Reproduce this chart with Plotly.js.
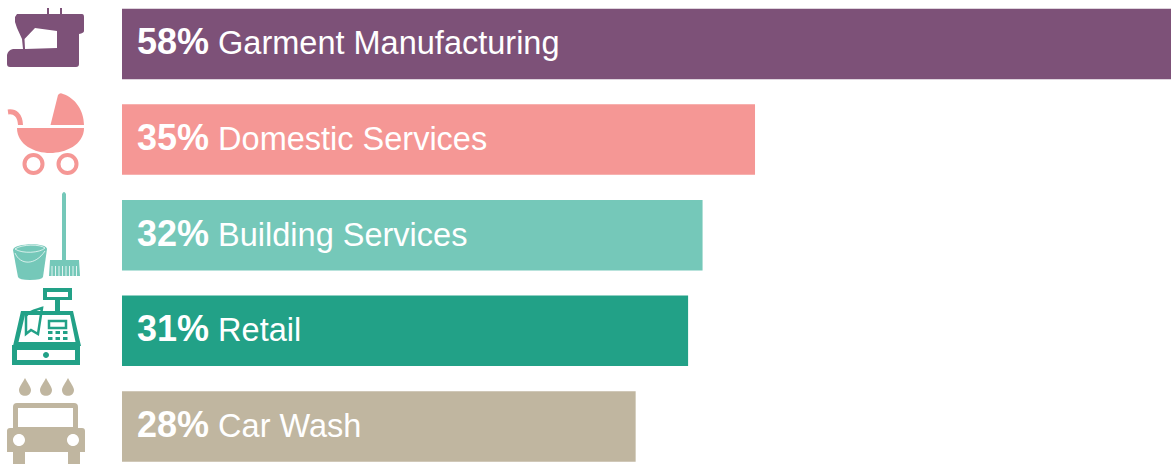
<!DOCTYPE html>
<html>
<head>
<meta charset="utf-8">
<script src="https://cdn.plot.ly/plotly-3.0.1.min.js"></script>
<style>
html, body { margin: 0; padding: 0; background: #fff; overflow: hidden; }
#chart { width: 1171px; height: 464px; }
</style>
</head>
<body>
<div id="chart"></div>
<script>
var sectors = ['Garment Manufacturing', 'Domestic Services', 'Building Services', 'Retail', 'Car Wash'];
var percentLabels = ['58%', '35%', '32%', '31%', '28%'];
// bar lengths, slightly off the printed labels
var barValues = [58, 35, 32.1, 31.3, 28.4];
var barColors = ['#7d5178', '#f59795', '#75c8b9', '#22a187', '#c0b6a0'];

function circle(cx, cy, r) {
    var k = r * 0.5523;
    return 'M' + (cx - r) + ',' + cy +
        ' C' + (cx - r) + ',' + (cy - k) + ' ' + (cx - k) + ',' + (cy - r) + ' ' + cx + ',' + (cy - r) +
        ' C' + (cx + k) + ',' + (cy - r) + ' ' + (cx + r) + ',' + (cy - k) + ' ' + (cx + r) + ',' + cy +
        ' C' + (cx + r) + ',' + (cy + k) + ' ' + (cx + k) + ',' + (cy + r) + ' ' + cx + ',' + (cy + r) +
        ' C' + (cx - k) + ',' + (cy + r) + ' ' + (cx - r) + ',' + (cy + k) + ' ' + (cx - r) + ',' + cy + ' Z';
}

function rect(x0, y0, x1, y1) {
    return 'M' + x0 + ',' + y0 + ' L' + x1 + ',' + y0 + ' L' + x1 + ',' + y1 + ' L' + x0 + ',' + y1 + ' Z';
}

function drop(cx, top, bottom) {
    var r = 6;
    var cy = bottom - r;
    return 'M' + cx + ',' + top +
        ' C' + (cx + 2) + ',' + (top + 4) + ' ' + (cx + r) + ',' + (cy - 3) + ' ' + (cx + r) + ',' + cy +
        ' C' + (cx + r) + ',' + (cy + r * 1.3) + ' ' + (cx - r) + ',' + (cy + r * 1.3) + ' ' + (cx - r) + ',' + cy +
        ' C' + (cx - r) + ',' + (cy - 3) + ' ' + (cx - 2) + ',' + (top + 4) + ' ' + cx + ',' + top + ' Z';
}

function icon(path, color) {
    return { type: 'path', xref: 'x2', yref: 'y2', path: path, fillcolor: color, line: { width: 0 }, layer: 'above' };
}

function iconLine(path, color, width) {
    return { type: 'path', xref: 'x2', yref: 'y2', path: path, line: { color: color, width: width }, layer: 'above' };
}

var purple = barColors[0], pink = barColors[1], mint = barColors[2], green = barColors[3], tan = barColors[4];
var iconShapes = [];

// sewing machine
iconShapes.push(icon(
    'M17,14 L82,14 Q84,14 84,17 L84,31 Q84,33 79,34 L79,64 Q79,67 76,67 L10,67 Q7,67 7,64 L7,55 Q8,50 13,49 L23,49 L22,39 L17,28 L15,22 L15,17 Z ' +
    'M24.5,39 L35,28 L57,31 L57,48 L25,49 Z', purple));
iconShapes.push(icon(rect(47, 8, 49, 14), purple));
iconShapes.push(icon(rect(60, 8, 62, 14), purple));

// pram
iconShapes.push(icon('M50.5,125 L58,95 Q60,92 63,94 C75,98 84,110 84,125 Z', pink));
iconShapes.push(icon('M17,128 L84,128 C84,145 65,153 50,153 C35,153 17,145 17,128 Z', pink));
iconShapes.push(iconLine('M8,112 C15,111 20,115 20.5,125', pink, 5));
iconShapes.push(iconLine(circle(33.5, 164, 9), pink, 4));
iconShapes.push(iconLine(circle(67.5, 164, 9), pink, 4));

// bucket and broom
iconShapes.push(icon('M62,194 Q64,190 66,194 L66,260 L62,260 Z', mint));
iconShapes.push(icon('M50,260 L79,260 L80,276 L49,276 Z', mint));
[52, 55.5, 59, 62.5, 66, 69.5, 73, 76.5].forEach(function(x) {
    iconShapes.push(iconLine('M' + x + ',266 L' + x + ',276', '#ffffff', 0.8));
});
iconShapes.push(icon('M13,250 C13,243 47,242 47,249 L43,277 Q42,280 30,280 Q19,280 18,277 Z', mint));
iconShapes.push(iconLine('M15,249 C22,244 40,244 45,248 C40,253 22,254 15,249 Z', '#ffffff', 0.7));
iconShapes.push(iconLine('M15,253 C20,265 35,266 45,251', '#ffffff', 0.7));

// cash register
iconShapes.push(icon(rect(43, 288, 72, 300) + ' ' + rect(47, 292, 68, 297), green));
iconShapes.push(icon(rect(55, 300, 60, 312), green));
iconShapes.push(icon(
    'M21,311 L73,311 L81,346 L13,346 Z M25,315 L70,315 L75.5,342 L18.5,342 Z', green));
iconShapes.push(iconLine('M26,316 C29,311 36,310 42,308 L38,334 L31,330 L26,334 Z', green, 2.5));
iconShapes.push(iconLine(rect(49, 321, 66, 328), green, 2.5));
[48, 55.5, 63].forEach(function(x) {
    iconShapes.push(icon(rect(x, 331, x + 4.5, 334), green));
    iconShapes.push(icon(rect(x, 337, x + 4.5, 340), green));
});
iconShapes.push(icon(rect(12, 345, 80, 365) + ' ' + rect(17, 350, 75, 360), green));
iconShapes.push(icon(circle(46, 355, 3), green));

// car wash
[25, 46, 68].forEach(function(x) {
    iconShapes.push(icon(drop(x, 378, 396), tan));
});
iconShapes.push(icon(
    'M17,403 L74,403 Q78,403 78,407 L78,428 L82,428 Q85,428 85,431 L85,452 L80,452 L80,464 L68,464 L68,452 L25,452 L25,464 L13,464 L13,452 L7,452 L7,431 Q7,428 10,428 L13,428 L13,407 Q13,403 17,403 Z ' +
    rect(18, 408, 73, 427) + ' ' + circle(19, 440, 6) + ' ' + circle(73, 440, 6), tan));

var labelNotes = sectors.map(function(name, i) {
    return {
        x: 0,
        y: name,
        xref: 'x',
        yref: 'y',
        xanchor: 'left',
        xshift: 13,
        yshift: 2,
        showarrow: false,
        align: 'left',
        text: '<b><span style="font-size:36px">' + percentLabels[i] + '</span></b> ' + name,
        font: { family: 'Liberation Sans, Arial, sans-serif', size: 32.5, color: '#ffffff' }
    };
});

var barTrace = {
    type: 'bar',
    orientation: 'h',
    x: barValues,
    y: sectors,
    marker: { color: barColors, line: { width: 0 } },
    hoverinfo: 'skip'
};

// empty trace so the pixel-sized icon axes exist
var iconAxisTrace = {
    type: 'scatter',
    mode: 'markers',
    x: [],
    y: [],
    xaxis: 'x2',
    yaxis: 'y2',
    hoverinfo: 'skip'
};

var layout = {
    width: 1171,
    height: 464,
    margin: { l: 0, r: 0, t: 0, b: 0, pad: 0 },
    paper_bgcolor: '#ffffff',
    plot_bgcolor: 'rgba(0,0,0,0)',
    showlegend: false,
    bargap: 0.2626,
    xaxis: { domain: [122 / 1171, 1], range: [0, 58], visible: false, fixedrange: true },
    yaxis: {
        type: 'category',
        categoryorder: 'array',
        categoryarray: sectors,
        range: [4.393, -0.46],
        visible: false,
        fixedrange: true
    },
    xaxis2: { domain: [0, 1], range: [0, 1171], visible: false, anchor: 'y2', fixedrange: true },
    yaxis2: { domain: [0, 1], range: [464, 0], visible: false, anchor: 'x2', fixedrange: true },
    shapes: iconShapes,
    annotations: labelNotes
};

Plotly.newPlot('chart', [barTrace, iconAxisTrace], layout, { displayModeBar: false, staticPlot: true });
</script>
</body>
</html>
